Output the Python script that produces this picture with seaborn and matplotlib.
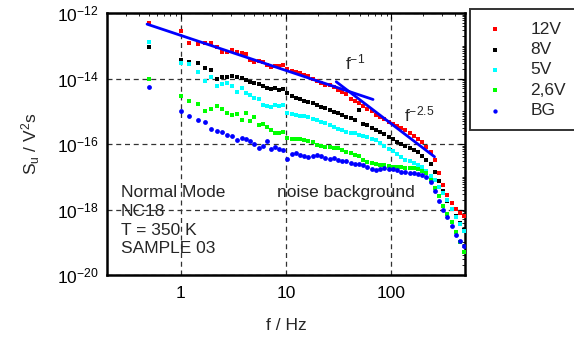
import numpy as np
import pandas as pd
import matplotlib
matplotlib.use("Agg")
import matplotlib.pyplot as plt
import seaborn as sns
from matplotlib.ticker import LogLocator, LogFormatterSciNotation, NullFormatter, FixedLocator

# ---------------- data (log10 of S_u) ----------------
freq = [0.5, 1.0, 1.2, 1.45, 1.7, 1.95, 2.2, 2.45, 2.75, 3.1, 3.45, 3.8, 4.2, 4.6, 5.0,
        5.5, 6.0, 6.6, 7.2, 7.9, 8.6, 9.4, 10.3, 11.3, 12.4, 13.6, 14.9, 16.3, 17.9, 19.6,
        21.5, 23.6, 25.9, 28.4, 31.1, 34.1, 37.4, 41.0, 45.0, 49.3, 54.1, 59.3, 65.0, 71.3,
        78.2, 85.7, 94.0, 103, 113, 124, 136, 149, 163, 179, 196, 215, 236, 259, 284, 311,
        341, 374, 410, 450, 490]

log_12V = [-12.30, -12.54, -12.93, -12.96, -12.91, -12.92, -13.05, -13.18, -13.20, -13.14,
           -13.19, -13.23, -13.24, -13.45, -13.50, -13.48, -13.50, -13.60, -13.66, -13.62,
           -13.63, -13.58, -13.70, -13.78, -13.80, -13.84, -13.88, -13.92, -14.02, -14.08,
           -14.15, -14.20, -14.20, -14.26, -14.35, -14.40, -14.46, -14.62, -14.68, -14.75,
           -14.85, -14.93, -15.00, -15.10, -15.18, -15.25, -15.32, -15.38, -15.44, -15.50,
           -15.58, -15.67, -15.76, -15.85, -15.95, -16.08, -16.25, -16.50, -16.90, -17.25,
           -17.55, -17.80, -17.98, -18.10, -18.20]

log_8V = [-13.03, -13.44, -13.50, -13.54, -13.68, -13.74, -14.00, -13.96, -13.96, -13.92,
          -13.94, -13.98, -14.05, -14.10, -14.15, -14.18, -14.23, -14.28, -14.33, -14.30,
          -14.36, -14.32, -14.45, -14.52, -14.58, -14.62, -14.68, -14.72, -14.76, -14.81,
          -14.86, -14.90, -14.95, -15.02, -15.06, -15.12, -15.17, -15.22, -15.27, -14.95,
          -15.38, -15.42, -15.50, -15.57, -15.63, -15.70, -15.78, -15.85, -15.93, -16.00,
          -16.05, -16.12, -16.18, -16.25, -16.38, -16.48, -16.62, -16.85, -17.12, -17.42,
          -17.75, -17.98, -18.20, -18.42, -18.62]

log_5V = [-12.88, -13.52, -13.57, -13.81, -14.07, -13.94, -14.23, -14.17, -14.13, -14.23,
          -14.40, -14.30, -14.45, -14.50, -14.58, -14.62, -14.80, -14.84, -14.86, -14.82,
          -14.85, -14.80, -15.06, -15.08, -15.11, -15.13, -15.16, -15.19, -15.23, -15.27,
          -15.32, -15.37, -15.42, -15.48, -15.53, -15.58, -15.62, -15.65, -15.67, -15.72,
          -15.76, -15.79, -15.84, -15.88, -15.98, -16.06, -16.14, -16.22, -16.30, -16.40,
          -16.48, -16.53, -16.58, -16.64, -16.70, -16.83, -16.97, -17.10, -17.30, -17.50,
          -17.70, -17.98, -18.22, -18.45, -18.66]

log_26V = [-14.00, -14.53, -14.69, -14.78, -14.99, -14.93, -14.84, -14.94, -15.04, -15.10,
           -15.08, -15.27, -15.06, -15.30, -15.17, -15.42, -15.40, -15.48, -15.57, -15.66,
           -15.66, -15.64, -15.82, -15.86, -15.84, -15.86, -15.88, -15.92, -15.95, -16.02,
           -16.05, -16.08, -16.08, -16.12, -16.13, -16.18, -16.24, -16.28, -16.33, -16.38,
           -16.50, -16.55, -16.58, -16.60, -16.63, -16.64, -16.67, -16.69, -16.70, -16.70,
           -16.72, -16.74, -16.72, -16.75, -16.82, -16.90, -17.10, -17.35, -17.60, -17.88,
           -18.15, -18.38, -18.68, -18.98, -19.30]

log_BG = [-14.27, -14.99, -15.15, -15.27, -15.32, -15.54, -15.59, -15.63, -15.72, -15.76,
          -15.88, -15.83, -15.86, -15.90, -16.00, -16.13, -16.05, -15.90, -16.15, -16.08,
          -16.15, -16.18, -16.45, -16.30, -16.28, -16.33, -16.36, -16.39, -16.37, -16.34,
          -16.36, -16.42, -16.46, -16.42, -16.50, -16.53, -16.52, -16.58, -16.60, -16.62,
          -16.64, -16.70, -16.76, -16.80, -16.76, -16.74, -16.76, -16.75, -16.80, -16.84,
          -16.86, -16.88, -16.90, -16.92, -16.96, -17.00, -17.15, -17.45, -17.75, -18.00,
          -18.22, -18.50, -18.78, -18.95, -19.12]

series_names = ["12V", "8V", "5V", "2,6V", "BG"]
series_colors = ["#ff0000", "#000000", "#00ffff", "#00ff00", "#0000ff"]
series_markers = ["s", "s", "s", "s", "o"]

# fit lines (endpoints, log10 S)
fit1_f = [0.48, 67.0]
fit1_log = [-12.34, -14.64]
fit2_f = [30.0, 257.0]
fit2_log = [-14.10, -16.39]

x_ticks = [1, 10, 100]
x_tick_labels = ["1", "10", "100"]

# ---------------- style ----------------
sns.set_style("white")
plt.rcParams["font.family"] = ["Liberation Sans", "DejaVu Sans"]
plt.rcParams["mathtext.fontset"] = "custom"
plt.rcParams["mathtext.rm"] = "Liberation Sans"
plt.rcParams["mathtext.it"] = "Liberation Sans"
plt.rcParams["mathtext.default"] = "regular"

fig = plt.figure(figsize=(5.74, 3.38), dpi=100)
ax = fig.add_axes([0.1864, 0.1864, 0.6237, 0.7751])

frames = []
for name, vals in zip(series_names, [log_12V, log_8V, log_5V, log_26V, log_BG]):
    frames.append(pd.DataFrame({"f": freq, "S": 10.0 ** np.array(vals), "series": name}))
df = pd.concat(frames, ignore_index=True)

for name, col, mk in zip(series_names, series_colors, series_markers):
    sub = df[df["series"] == name]
    sns.scatterplot(data=sub, x="f", y="S", ax=ax, color=col, marker=mk,
                    s=11 if mk == "s" else 12, linewidth=0, label=name, zorder=3)

fits = pd.DataFrame({"f": fit1_f + fit2_f,
                     "S": list(10.0 ** np.array(fit1_log)) + list(10.0 ** np.array(fit2_log)),
                     "fit": ["a", "a", "b", "b"]})
for key in ["a", "b"]:
    sub = fits[fits["fit"] == key]
    sns.lineplot(data=sub, x="f", y="S", ax=ax, color="#0000ff", lw=2.0,
                 legend=False, zorder=4, estimator=None)

ax.set_xscale("log")
ax.set_yscale("log")
ax.set_xlim(0.2, 500)
ax.set_ylim(1e-20, 1e-12)

ax.xaxis.set_major_locator(FixedLocator(x_ticks))
ax.set_xticklabels(x_tick_labels)
ax.xaxis.set_minor_locator(LogLocator(base=10, subs=np.arange(2, 10)))
ax.xaxis.set_minor_formatter(NullFormatter())
ax.yaxis.set_major_locator(FixedLocator([1e-20, 1e-18, 1e-16, 1e-14, 1e-12]))
ax.yaxis.set_major_formatter(LogFormatterSciNotation())
ax.yaxis.set_minor_locator(LogLocator(base=10, subs=np.arange(1, 10), numticks=50))
ax.yaxis.set_minor_formatter(NullFormatter())

ax.tick_params(which="both", direction="in", top=True, right=True, labelsize=12.5,
               colors="black")
ax.tick_params(which="major", length=4, width=0.8, pad=6)
ax.tick_params(axis="x", which="major", pad=8)
ax.tick_params(which="minor", length=2, width=0.6)
ax.grid(True, which="major", ls=(0, (4, 3)), color="#333333", lw=0.9)
for sp in ax.spines.values():
    sp.set_linewidth(1.8)
    sp.set_color("black")

ax.set_xlabel("f / Hz", fontsize=12.5, labelpad=12)
ax.set_ylabel("S$_u$ / V$^2$s", fontsize=12.5, labelpad=11)

ax.text(45, 10 ** -13.5, "f$^{-1}$", fontsize=12.5, ha="center", va="center")
ax.text(185, 10 ** -15.1, "f$^{-2.5}$", fontsize=12.5, ha="center", va="center")
ax.text(36.9, 10 ** -17.47, "noise background", fontsize=12.5, ha="center", va="center")
ax.text(0.038, 0.345, "Normal Mode\nNC18\nT = 350 K\nSAMPLE 03", transform=ax.transAxes,
        fontsize=12.5, ha="left", va="top", linespacing=1.33)

leg = ax.legend(loc="upper left", bbox_to_anchor=(0.818, 0.972), bbox_transform=fig.transFigure,
                frameon=True, fancybox=False, fontsize=12.5, handletextpad=1.3,
                labelspacing=0.3, borderpad=0.7, markerscale=0.9, handlelength=1.5,
                borderaxespad=0)
leg.get_frame().set_edgecolor("black")
leg.get_frame().set_linewidth(1.4)

fig.savefig("out.png", dpi=100)
